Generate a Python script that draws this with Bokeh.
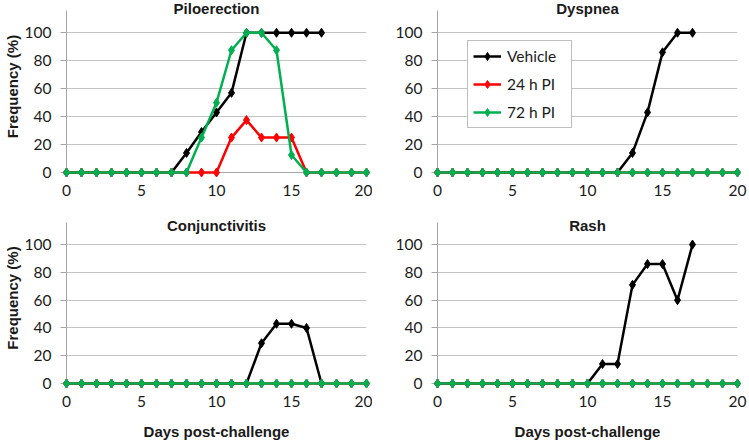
import math
from bokeh.plotting import figure
from bokeh.layouts import column, row
from bokeh.models import Range1d, Label, Legend, LegendItem, FixedTicker
from bokeh.embed import file_html
from bokeh.resources import INLINE

# ---------------- data ----------------
days = list(range(21))
series_names = ["Vehicle", "24 h PI", "72 h PI"]
series_colors = ["#000000", "#FF0000", "#00B050"]
panel_titles = ["Piloerection", "Dyspnea", "Conjunctivitis", "Rash"]
x_ticks = [0, 5, 10, 15, 20]
y_ticks = [0, 20, 40, 60, 80, 100]

# Piloerection
pilo_vehicle = [0, 0, 0, 0, 0, 0, 0, 0, 14, 29, 43, 57, 100, 100, 100, 100, 100, 100]
pilo_24h = [0, 0, 0, 0, 0, 0, 0, 0, 0, 0, 0, 25, 37.5, 25, 25, 25, 0, 0, 0, 0, 0]
pilo_72h = [0, 0, 0, 0, 0, 0, 0, 0, 0, 25, 50, 87.5, 100, 100, 87.5, 12.5, 0, 0, 0, 0, 0]

# Dyspnea
dysp_vehicle = [0, 0, 0, 0, 0, 0, 0, 0, 0, 0, 0, 0, 0, 14, 43, 86, 100, 100]
dysp_24h = [0, 0, 0, 0, 0, 0, 0, 0, 0, 0, 0, 0, 0, 0, 0, 0, 0, 0, 0, 0, 0]
dysp_72h = [0, 0, 0, 0, 0, 0, 0, 0, 0, 0, 0, 0, 0, 0, 0, 0, 0, 0, 0, 0, 0]

# Conjunctivitis
conj_vehicle = [0, 0, 0, 0, 0, 0, 0, 0, 0, 0, 0, 0, 0, 29, 43, 43, 40, 0]
conj_24h = [0, 0, 0, 0, 0, 0, 0, 0, 0, 0, 0, 0, 0, 0, 0, 0, 0, 0, 0, 0, 0]
conj_72h = [0, 0, 0, 0, 0, 0, 0, 0, 0, 0, 0, 0, 0, 0, 0, 0, 0, 0, 0, 0, 0]

# Rash
rash_vehicle = [0, 0, 0, 0, 0, 0, 0, 0, 0, 0, 0, 14, 14, 71, 86, 86, 60, 100]
rash_24h = [0, 0, 0, 0, 0, 0, 0, 0, 0, 0, 0, 0, 0, 0, 0, 0, 0, 0, 0, 0, 0]
rash_72h = [0, 0, 0, 0, 0, 0, 0, 0, 0, 0, 0, 0, 0, 0, 0, 0, 0, 0, 0, 0, 0]

panel_data = [
    [pilo_vehicle, pilo_24h, pilo_72h],
    [dysp_vehicle, dysp_24h, dysp_72h],
    [conj_vehicle, conj_24h, conj_72h],
    [rash_vehicle, rash_24h, rash_72h],
]

TICK_FONT = "Lato"
BOLD_FONT = "Liberation Sans"
TEXT_COLOR = "#1a1a1a"
Y_END = 123.1       # frame extends above the axis to hold the panel title
AXIS_TOP = 116      # visible extent of the value axis


def make_panel(idx, width, height, bl, br, bt, bb, ylabel, xlabel, title_y):
    p = figure(width=width, height=height,
               x_range=Range1d(0, 20), y_range=Range1d(0, Y_END),
               output_backend="svg", toolbar_location=None,
               min_border_left=bl, min_border_right=br,
               min_border_top=bt, min_border_bottom=bb)
    p.outline_line_color = None
    p.background_fill_color = "white"
    p.border_fill_color = "white"

    p.xaxis.ticker = FixedTicker(ticks=x_ticks)
    p.yaxis.ticker = FixedTicker(ticks=y_ticks)
    p.yaxis.bounds = (0, AXIS_TOP)
    p.xgrid.visible = False
    p.ygrid.grid_line_color = "#C4C4C4"
    p.ygrid.grid_line_width = 1

    for ax in (p.xaxis, p.yaxis):
        ax.axis_line_color = "#A6A6A6"
        ax.axis_line_width = 1
        ax.major_tick_line_color = "#A6A6A6"
        ax.minor_tick_line_color = None
        ax.major_tick_in = 0
        ax.major_label_text_font = TICK_FONT
        ax.major_label_text_font_size = "15.5px"
        ax.major_label_text_color = TEXT_COLOR
        ax.axis_label_text_font = BOLD_FONT
        ax.axis_label_text_font_style = "bold"
        ax.axis_label_text_font_size = "15px"
        ax.axis_label_text_color = TEXT_COLOR
    p.xaxis.major_tick_out = 0
    p.xaxis.major_label_standoff = 12
    p.yaxis.major_tick_out = 6
    p.yaxis.major_label_standoff = 9
    p.yaxis.axis_label_standoff = 1
    p.xaxis.axis_label_standoff = 13
    if ylabel:
        p.yaxis.axis_label = "Frequency (%)"
    if xlabel:
        p.xaxis.axis_label = "Days post-challenge"

    items = []
    for name, color, vals in zip(series_names, series_colors, panel_data[idx]):
        xs = days[:len(vals)]
        lr = p.line(xs, vals, line_color=color, line_width=2.5, level="overlay")
        sr = p.scatter(xs, vals, marker="diamond", size=9,
                       fill_color=color, line_color=color, level="overlay")
        items.append(LegendItem(label=name, renderers=[lr, sr]))

    p.add_layout(Label(x=10, y=title_y, text=panel_titles[idx], text_align="center",
                       text_baseline="middle", text_font=BOLD_FONT,
                       text_font_style="bold", text_font_size="15px",
                       text_color=TEXT_COLOR))
    return p, items


# top row: frame 0..172 ; bottom row: frame 212..384 (page coordinates)
p1, _ = make_panel(0, 372, 205, 66, 6, 0, 33, True, False, 117.4)
p2, items2 = make_panel(1, 377, 205, 65, 12, 0, 33, False, False, 117.4)
p3, _ = make_panel(2, 372, 237, 66, 6, 7, 58, True, True, 113.8)
p4, _ = make_panel(3, 377, 237, 65, 12, 7, 58, False, True, 113.8)

legend = Legend(items=items2, location=(30, 44), orientation="vertical",
                label_text_font=TICK_FONT, label_text_font_size="15.5px",
                label_text_color=TEXT_COLOR, glyph_width=28, glyph_height=20,
                label_height=20, label_width=59, label_standoff=6, padding=5,
                spacing=8, margin=0, border_line_color="#7F7F7F",
                border_line_width=1, background_fill_color="white",
                background_fill_alpha=1.0)
p2.add_layout(legend, "center")

layout = column(row(p1, p2), row(p3, p4))

html = file_html(layout, INLINE)
open("out.html", "w").write(html)
